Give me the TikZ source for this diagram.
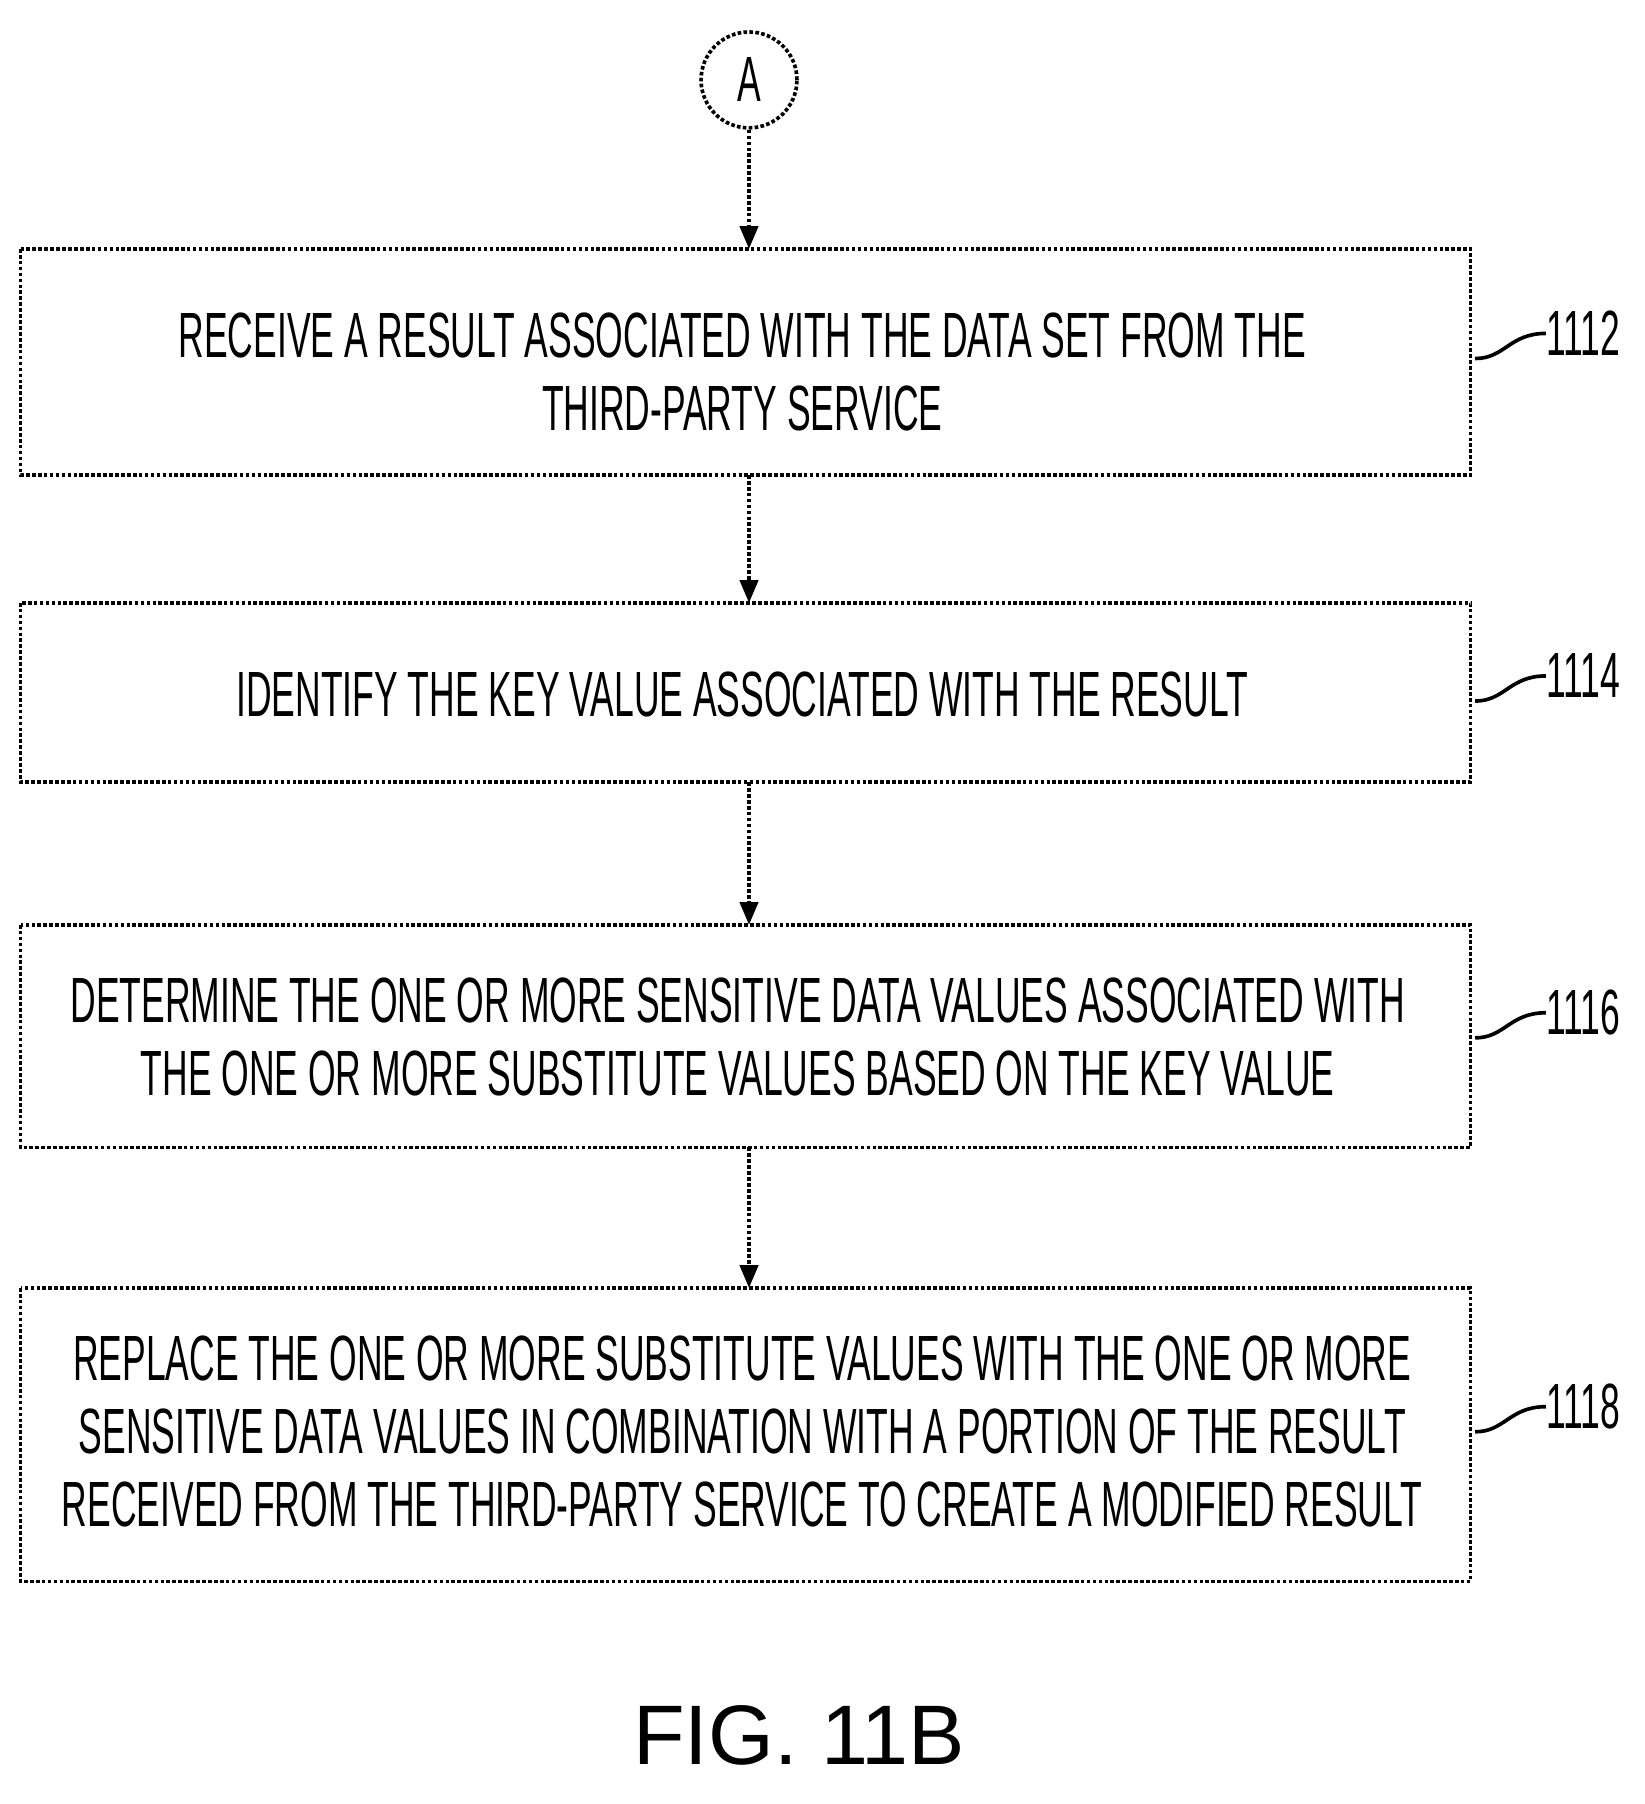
\documentclass[tikz,border=0pt]{standalone}
\usepackage{fontspec}
\setmainfont{Liberation Sans}
\usetikzlibrary{arrows.meta}
\newcommand{\sq}[1]{\scalebox{0.555}[1]{#1}}
\begin{document}
\begin{tikzpicture}[x=0.5pt,y=-0.5pt,
  box/.style={draw,line width=1.6pt,densely dotted},
  arr/.style={line width=1.6pt,densely dotted,-{Triangle[width=8pt,length=10pt]}},
  txt/.style={font=\fontsize{28}{26}\selectfont,align=center,inner sep=0pt},
  lbl/.style={font=\fontsize{28}{26}\selectfont,inner sep=0pt,anchor=west}]
\useasboundingbox (0,0) rectangle (1440,1580);
\node[circle,draw,line width=1.6pt,densely dotted,minimum size=42pt,font=\fontsize{28}{26}\selectfont,inner sep=0pt] (A) at (656,70) {\sq{A}};
\draw[box] (18,218) rectangle (1288,416); \coordinate (b1t) at (656,218); \coordinate (b1b) at (656,416);
\draw[box] (18,528) rectangle (1288,685); \coordinate (b2t) at (656,528); \coordinate (b2b) at (656,685);
\draw[box] (18,810) rectangle (1288,1005); \coordinate (b3t) at (656,810); \coordinate (b3b) at (656,1005);
\draw[box] (18,1128) rectangle (1288,1385); \coordinate (b4t) at (656,1128);
\node[txt] (t1) at (650,326) {\sq{RECEIVE A RESULT ASSOCIATED WITH THE DATA SET FROM THE}\\[6pt]\sq{THIRD-PARTY SERVICE}};
\node[txt] (t2) at (650,608) {\sq{IDENTIFY THE KEY VALUE ASSOCIATED WITH THE RESULT}};
\node[txt] (t3) at (646,908) {\sq{DETERMINE THE ONE OR MORE SENSITIVE DATA VALUES ASSOCIATED WITH}\\[6pt]\sq{THE ONE OR MORE SUBSTITUTE VALUES BASED ON THE KEY VALUE}};
\node[txt] (t4) at (650,1254) {\sq{REPLACE THE ONE OR MORE SUBSTITUTE VALUES WITH THE ONE OR MORE}\\[6pt]\sq{SENSITIVE DATA VALUES IN COMBINATION WITH A PORTION OF THE RESULT}\\[6pt]\sq{RECEIVED FROM THE THIRD-PARTY SERVICE TO CREATE A MODIFIED RESULT}};
\draw[arr] (A) -- (b1t);
\draw[arr] (b1b) -- (b2t);
\draw[arr] (b2b) -- (b3t);
\draw[arr] (b3b) -- (b4t);
\foreach \y/\l in {292/1112,592/1114,887/1116,1232/1118}{
  \node[lbl] (L\l) at (1354,\y) {\sq{\l}};
  \draw[line width=1.6pt] (1292,\y+22) .. controls (1318,\y+22) and (1322,\y) .. (L\l.west);
}
\node[font=\fontsize{37}{37}\selectfont] (fig) at (700,1520) {FIG. 11B};
\end{tikzpicture}
\end{document}
